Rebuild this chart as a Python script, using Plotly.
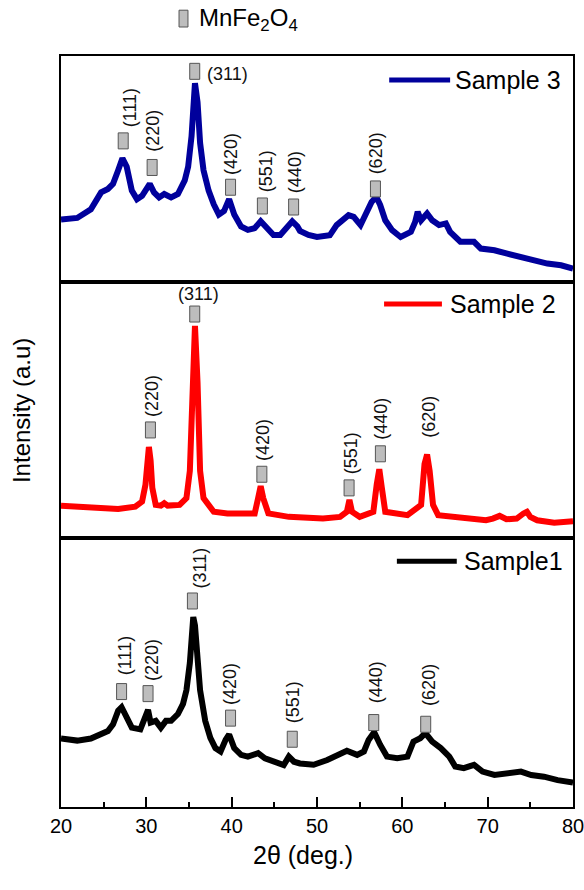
import plotly.graph_objects as go
from plotly.subplots import make_subplots

# ---------------- data (y = arbitrary intensity units per panel) ----------------
s3_x = [20.0, 21.9, 23.5, 24.7, 25.5, 26.1, 26.7, 27.2, 27.7, 28.3, 28.9, 29.5, 30.4, 30.9, 31.5, 32.1,
        32.9, 33.7, 34.5, 34.9, 35.3, 35.7, 36.0, 36.3, 36.7, 37.3, 37.9, 38.5, 39.1, 39.7, 40.3, 41.1,
        41.9, 42.7, 43.4, 44.1, 44.9, 45.7, 46.5, 47.1, 47.7, 48.0, 49.0, 50.0, 51.5, 52.3, 53.7, 54.3,
        55.1, 55.9, 56.4, 56.95, 57.4, 58.0, 58.8, 59.8, 61.0, 61.5, 61.8, 62.2, 62.9, 63.5, 64.3,
        65.1, 65.6, 66.8, 68.4, 69.2, 70.8, 72.3, 73.9, 75.4, 77.0, 78.6, 80.0]
s3_y = [183, 188, 213, 263, 273, 288, 328, 363, 338, 268, 243, 253, 288, 263, 248, 258,
        248, 258, 298, 338, 428, 583, 528, 408, 328, 268, 228, 198, 208, 243, 198, 163,
        153, 158, 178, 158, 138, 138, 163, 178, 163, 150, 138, 132, 137, 167, 196, 191,
        167, 206, 235, 250, 226, 181, 152, 132, 147, 176, 206, 181, 201, 181, 167,
        172, 147, 118, 118, 98, 93, 83, 73, 68, 54, 49, 39]

s2_x = [20.0, 21.9, 24.7, 26.7, 28.7, 29.5, 29.9, 30.1, 30.3, 30.5, 30.7, 31.1, 31.7, 32.1, 32.5,
        33.9, 34.7, 35.1, 35.4, 35.7, 36.0, 36.3, 36.7, 37.3, 37.9, 39.5, 42.7, 43.1, 43.4, 43.7,
        44.3, 46.7, 50.7, 52.7, 53.5, 53.8, 54.1, 55.0, 56.6, 57.0, 57.3, 57.6, 58.0, 60.6, 62.2,
        62.6, 62.9, 63.2, 63.6, 64.2, 66.6, 69.8, 70.6, 71.4, 72.2, 73.4, 74.2, 74.6, 75.0, 75.8,
        77.8, 80.0]
s2_y = [95, 92, 87, 85, 92, 107, 157, 217, 267, 227, 147, 97, 95, 102, 95,
        97, 117, 197, 457, 622, 457, 197, 117, 99, 77, 72, 72, 117, 152, 117,
        72, 62, 57, 62, 77, 112, 77, 62, 77, 157, 202, 147, 77, 67, 97,
        217, 245, 197, 97, 67, 62, 52, 57, 65, 55, 57, 72, 77, 62, 52,
        45, 49]

s1_x = [20.0, 21.9, 23.5, 24.7, 25.5, 26.1, 26.7, 27.1, 27.7, 28.3, 29.3, 29.9, 30.2, 30.5, 31.1,
        31.7, 32.3, 32.9, 33.7, 34.3, 34.7, 35.1, 35.3, 35.5, 35.7, 36.0, 36.3, 36.9, 37.5, 38.1,
        38.7, 39.3, 39.7, 40.3, 41.1, 41.9, 43.1, 43.9, 45.1, 46.1, 46.7, 47.3, 48.0, 49.6, 51.2,
        52.3, 53.5, 54.7, 55.5, 56.05, 56.7, 57.4, 58.2, 59.4, 60.6, 61.3, 62.1, 62.7, 63.5, 64.5,
        65.5, 66.2, 67.2, 68.4, 69.4, 70.8, 72.3, 73.9, 75.1, 76.6, 78.2, 80.0]
s1_y = [201, 195, 201, 213, 223, 243, 283, 293, 263, 233, 228, 273, 285, 248, 253,
        233, 253, 253, 273, 303, 343, 423, 513, 558, 533, 433, 343, 253, 203, 173,
        163, 198, 213, 173, 153, 148, 158, 143, 133, 123, 148, 133, 128, 124, 138,
        153, 165, 153, 163, 197, 220, 183, 148, 143, 148, 192, 202, 217, 192, 173,
        148, 119, 114, 124, 104, 94, 99, 104, 94, 89, 79, 72]

# peak labels: label text, marker (x, y), text (x, y)
s3_labels = ["(111)", "(220)", "(311)", "(420)", "(551)", "(440)", "(620)"]
s3_mark_x = [27.29, 30.68, 35.67, 39.87, 43.60, 47.26, 56.85]
s3_mark_y = [414, 336, 618, 278, 223, 220, 273]
s3_text_x = [28.10, 30.76, 36.87, 39.95, 43.96, 47.45, 56.94]
s3_text_y = [510, 443, 610, 376, 326, 323, 378]

s2_labels = ["(220)", "(311)", "(420)", "(551)", "(440)", "(620)"]
s2_mark_x = [30.48, 35.67, 43.54, 53.76, 57.43, None]
s2_mark_y = [317, 657, 187, 147, 247, None]
s2_text_x = [30.69, 36.07, 43.66, 53.92, 57.51, 63.10]
s2_text_y = [417, 717, 287, 250, 350, 355]

s1_labels = ["(111)", "(220)", "(311)", "(420)", "(551)", "(440)", "(620)"]
s1_mark_x = [27.10, 30.20, 35.40, 39.87, 47.10, 56.65, 62.74]
s1_mark_y = [339, 333, 605, 261, 199, 248, 243]
s1_text_x = [27.50, 30.60, 36.27, 39.79, 47.13, 56.90, 63.10]
s1_text_y = [443, 433, 703, 361, 306, 366, 358]

sample_names = ["Sample 3", "Sample 2", "Sample1"]
x_ticks = [20, 30, 40, 50, 60, 70, 80]

# ---------------- figure ----------------
FONT = "Arial, Liberation Sans, sans-serif"
colors = ["#00009C", "#FF0000", "#000000"]
y_max = [663, 751, 790]

fig = make_subplots(rows=3, cols=1, vertical_spacing=0, row_heights=[226, 256, 269])

panels = [
    (s3_x, s3_y, s3_labels, s3_mark_x, s3_mark_y, s3_text_x, s3_text_y, ["(311)"], "left"),
    (s2_x, s2_y, s2_labels, s2_mark_x, s2_mark_y, s2_text_x, s2_text_y, ["(311)"], "center"),
    (s1_x, s1_y, s1_labels, s1_mark_x, s1_mark_y, s1_text_x, s1_text_y, [], "left"),
]

legend_pos = [  # line x0, x1, y, text x (domain fractions)
    (0.641, 0.760, 0.894, 0.766),
    (0.631, 0.744, 0.914, 0.756),
    (0.656, 0.773, 0.914, 0.783),
]

for i, (xs, ys, labs, mx, my, tx, ty, horiz, halign) in enumerate(panels):
    r = i + 1
    sfx = "" if r == 1 else str(r)
    fig.add_trace(go.Scatter(x=xs, y=ys, mode="lines", name=sample_names[i],
                             line=dict(color=colors[i], width=6), showlegend=False),
                  row=r, col=1)
    for lab, mxi, myi, txi, tyi in zip(labs, mx, my, tx, ty):
        if mxi is not None:
            fig.add_shape(type="rect", xref="x" + sfx, yref="y" + sfx,
                          xsizemode="pixel", ysizemode="pixel",
                          xanchor=mxi, yanchor=myi, x0=-5, x1=5, y0=-8, y1=8,
                          fillcolor="#BDBDBD", line=dict(color="#555555", width=1))
        if lab in horiz:
            fig.add_annotation(x=txi, y=tyi, xref="x" + sfx, yref="y" + sfx, text=lab,
                               showarrow=False, xanchor=halign, yanchor="middle",
                               font=dict(family=FONT, size=18, color="#111"))
        else:
            fig.add_annotation(x=txi, y=tyi, xref="x" + sfx, yref="y" + sfx, text=lab,
                               showarrow=False, textangle=-90, xanchor="center", yanchor="middle",
                               font=dict(family=FONT, size=18, color="#111"))
    lx0, lx1, ly, ltx = legend_pos[i]
    fig.add_shape(type="line", xref="x" + sfx + " domain", yref="y" + sfx + " domain",
                  x0=lx0, x1=lx1, y0=ly, y1=ly, line=dict(color=colors[i], width=5))
    fig.add_annotation(x=ltx, y=ly, xref="x" + sfx + " domain", yref="y" + sfx + " domain",
                       text=sample_names[i], showarrow=False, xanchor="left", yanchor="middle",
                       font=dict(family=FONT, size=25, color="#000"))

    fig.update_yaxes(row=r, col=1, range=[0, y_max[i]], showticklabels=False, ticks="",
                     showgrid=False, zeroline=False, showline=True, mirror=True,
                     linecolor="#000", linewidth=2, automargin=False)
    common_x = dict(range=[20, 80], showgrid=False, zeroline=False, showline=True, mirror=True,
                    linecolor="#000", linewidth=2, automargin=False)
    if r < 3:
        fig.update_xaxes(row=r, col=1, showticklabels=False, ticks="", **common_x)
    else:
        fig.update_xaxes(row=r, col=1, tickvals=x_ticks, ticks="inside", ticklen=10, tickwidth=1.5,
                         tickcolor="#000", ticklabeloverflow="allow",
                         minor=dict(dtick=5, tick0=20, ticks="inside", ticklen=5, tickwidth=1.5,
                                    tickcolor="#000"),
                         tickfont=dict(family=FONT, size=20, color="#000"), **common_x)

# top compound legend: MnFe2O4
fig.add_shape(type="rect", xref="paper", yref="paper", x0=0.2305, x1=0.248, y0=1.0386, y1=1.061,
              fillcolor="#BDBDBD", line=dict(color="#555555", width=1))
fig.add_annotation(x=0.266, y=1.049, xref="paper", yref="paper",
                   text="MnFe<sub>2</sub>O<sub>4</sub>", showarrow=False,
                   xanchor="left", yanchor="middle", font=dict(family=FONT, size=24, color="#000"))

# axis titles
fig.add_annotation(x=-0.077, y=0.528, xref="paper", yref="paper", text="Intensity (a.u)",
                   textangle=-90, showarrow=False, xanchor="center", yanchor="middle",
                   font=dict(family=FONT, size=24, color="#000"))
fig.add_annotation(x=0.473, y=-0.064, xref="paper", yref="paper", text="2θ (deg.)",
                   showarrow=False, xanchor="center", yanchor="middle",
                   font=dict(family=FONT, size=25, color="#000"))

fig.update_layout(width=584, height=890, margin=dict(l=61, r=11, t=56, b=83),
                  paper_bgcolor="white", plot_bgcolor="white", showlegend=False)

fig.write_html("out.html")
